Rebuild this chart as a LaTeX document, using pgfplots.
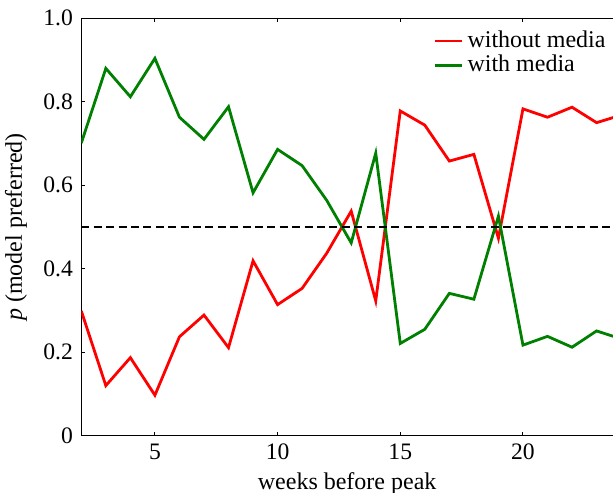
\documentclass[border=0pt]{standalone}
\usepackage{pgfplots}
\pgfplotsset{compat=1.18}
\usepackage{fontspec}
\setmainfont{Liberation Serif}
\definecolor{mplgreen}{RGB}{0,128,0}
\begin{document}
\fontsize{12}{14}\selectfont
\begin{tikzpicture}
\begin{axis}[
  scale only axis,
  width=265.85pt, height=208.7pt,
  xmin=2, xmax=23.67, ymin=0, ymax=1,
  axis x line*=box, axis y line*=left,
  xtick={5,10,15,20},
  xticklabels={5,10,15,20},
  ytick={0,0.2,0.4,0.6,0.8,1.0},
  yticklabels={0,0.2,0.4,0.6,0.8,1.0},
  /pgf/number format/assume math mode=true,
  tick label style={font=\rmfamily\fontsize{11.8}{13}\selectfont},
  label style={font=\rmfamily\fontsize{12}{14}\selectfont},
  tick style={black, line width=0.5pt},
  major tick length=2pt,
  axis line style={line width=0.6pt},
  xlabel={weeks before peak},
  ylabel={\textit{p} (model preferred)},
  xlabel style={yshift=2pt},
  legend style={at={(0.998,0.985)}, anchor=north east, draw=none, fill=none,
    font=\rmfamily\fontsize{12}{14}\selectfont, row sep=-2pt, inner sep=1pt},
  legend cell align=left,
  legend image code/.code={\draw[#1] (0cm,0cm) -- (0.47cm,0cm);},
]
\addplot[red, line width=1.4pt] coordinates {
(2,0.299) (3,0.120) (4,0.187) (5,0.097) (6,0.237) (7,0.289) (8,0.211) (9,0.419)
(10,0.314) (11,0.353) (12,0.437) (13,0.538) (14,0.323) (15,0.778) (16,0.744)
(17,0.658) (18,0.674) (19,0.473) (20,0.783) (21,0.763) (22,0.787) (23,0.750) (24,0.768)};
\addlegendentry{without media}
\addplot[mplgreen, line width=1.4pt] coordinates {
(2,0.701) (3,0.880) (4,0.812) (5,0.904) (6,0.763) (7,0.710) (8,0.788) (9,0.582)
(10,0.686) (11,0.647) (12,0.564) (13,0.462) (14,0.677) (15,0.221) (16,0.255)
(17,0.341) (18,0.327) (19,0.526) (20,0.217) (21,0.238) (22,0.212) (23,0.251) (24,0.232)};
\addlegendentry{with media}
\addplot[black, line width=1pt, dash pattern=on 4pt off 2.2pt, forget plot] coordinates {(2,0.5) (24,0.5)};
\end{axis}
\pgfresetboundingbox
\path[use as bounding box] ([shift={(-40.65pt,-28.15pt)}]current axis.south west) rectangle ([shift={(0pt,9.15pt)}]current axis.north east);
\end{tikzpicture}
\end{document}
